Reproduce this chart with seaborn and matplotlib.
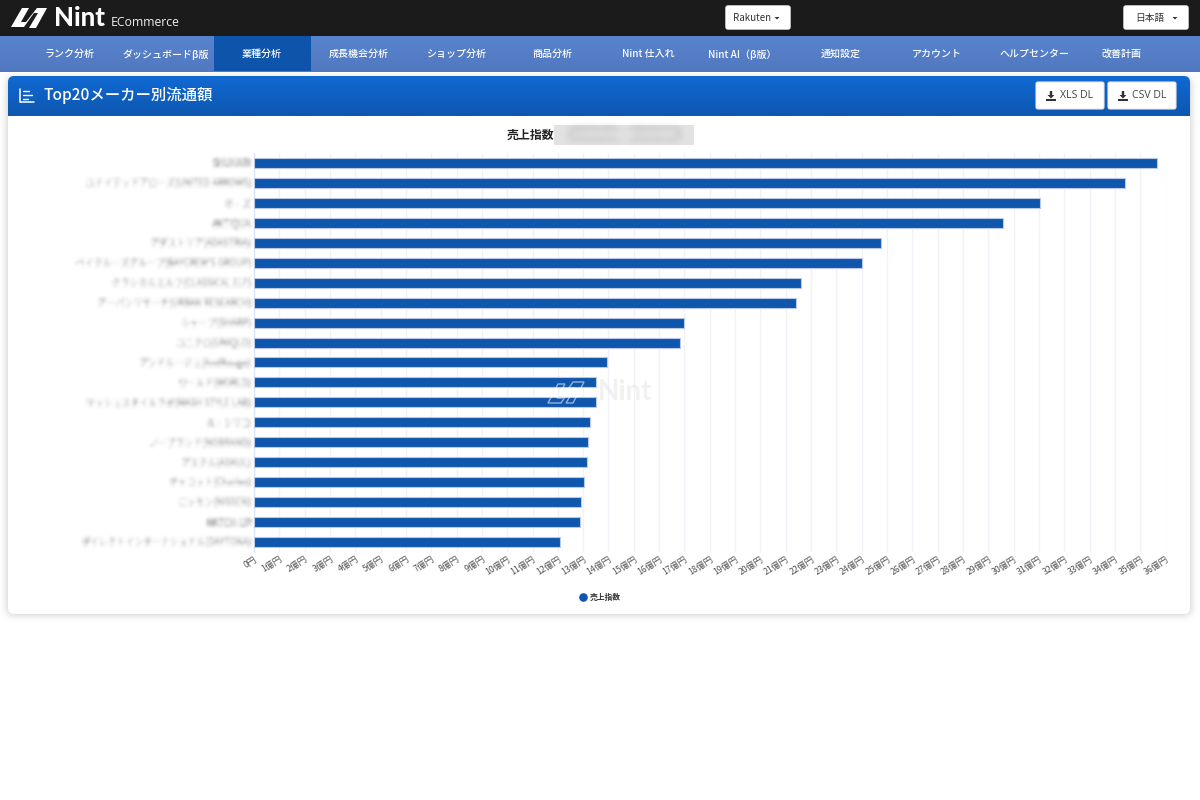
import numpy as np
import pandas as pd
import seaborn as sns
import matplotlib.pyplot as plt
from matplotlib.colors import to_rgb
from matplotlib.lines import Line2D
from matplotlib.patches import FancyBboxPatch, Rectangle, Polygon

makers = [
    "SHUHARI",
    "ユナイテッドアローズ(UNITED ARROWS)",
    "ホ・ズ",
    "ANTIQUA",
    "アダストリア(ADASTRIA)",
    "ベイクルーズグループ(BAYCREW'S GROUP)",
    "クラシカルエルフ(CLASSICAL ELF)",
    "アーバンリサーチ(URBAN RESEARCH)",
    "シャープ(SHARP)",
    "ユニクロ(UNIQLO)",
    "アンドルージュ(AndRouge)",
    "ワールド(WORLD)",
    "マッシュスタイルラボ(MASH STYLE LAB)",
    "ル・シリコ",
    "ノーブランド(NOBRAND)",
    "アスクル(ASKUL)",
    "チャコット(Charles)",
    "ニッセン(NISSEN)",
    "MATCH-UP",
    "ダイレクトインターナショナル(DAYTONA)",
]
sales = [35.66, 34.4, 31.05, 29.6, 24.76, 24.03, 21.6, 21.42, 17.0, 16.82,
         13.93, 13.52, 13.5, 13.28, 13.18, 13.15, 13.03, 12.9, 12.88, 12.1]
x_ticks = list(range(37))
x_labels = ["0円"] + [f"{i}億円" for i in range(1, 37)]
nav_items = ["ランク分析", "ダッシュボードβ版", "業種分析", "成長機会分析", "ショップ分析", "商品分析",
             "Nint 仕入れ", "Nint AI（β版）", "通知設定", "アカウント", "ヘルプセンター", "改善計画"]
nav_x = [70, 166, 262, 359, 456, 552, 648, 742, 841, 937, 1034, 1121]
# agg rounds the baseline differently for some strings
nav_dy = [0, 2, 0, 0, 0, 0, 0, 2, 0, 0, 0, 1]

BLUE = "#0f56ad"
FONT = ["Noto Sans CJK JP", "DejaVu Sans"]


def blur(sigma):
    # gaussian blur usable as an artist agg_filter
    radius = int(sigma * 3) + 1
    kernel = np.exp(-np.arange(-radius, radius + 1) ** 2 / (2 * sigma ** 2))
    kernel /= kernel.sum()

    def _filter(img, dpi):
        img = np.pad(img, ((radius, radius), (radius, radius), (0, 0)))
        for axis in (0, 1):
            img = np.apply_along_axis(lambda m: np.convolve(m, kernel, mode="same"), axis, img)
        return img, -radius, -radius

    return _filter


sns.set_theme(style="white")
plt.rcParams["font.family"] = FONT

fig = plt.figure(figsize=(12, 8), dpi=100, facecolor="white")

# page furniture, in pixel coordinates
bg = fig.add_axes([0, 0, 1, 1], zorder=0)
bg.set_xlim(0, 1200)
bg.set_ylim(800, 0)
bg.axis("off")


def gradient(top, bottom, extent, clip=None):
    c0, c1 = np.array(to_rgb(top)), np.array(to_rgb(bottom))
    t = np.linspace(0, 1, 40)[:, None, None]
    im = bg.imshow(c0 + (c1 - c0) * t, extent=extent, aspect="auto", zorder=3, interpolation="bilinear")
    if clip is not None:
        im.set_clip_path(clip)
    bg.set_xlim(0, 1200)
    bg.set_ylim(800, 0)


bg.add_patch(Rectangle((0, 0), 1200, 36, color="#1b1b1b", zorder=1))
gradient("#5783cf", "#5279bf", (0, 1200, 72, 36))
bg.add_patch(Rectangle((214, 36), 97, 35, color="#0d54aa", lw=0, zorder=4))

for label, xpos, dy in zip(nav_items, nav_x, nav_dy):
    bg.text(xpos, 56.5 + dy, label, color="white", fontsize=7.2, fontweight="medium",
            ha="center", va="baseline", zorder=5)

# logo
bg.add_patch(Polygon([(11, 27), (22, 8), (29, 8), (21, 22), (26, 22), (37, 8), (47, 8), (36, 28),
                      (29, 28), (38, 13), (34, 13), (24, 27)], color="white", lw=0, zorder=5))
bg.text(54, 18.5, "Nint", color="white", fontsize=18.5, fontweight="black", ha="left", va="center",
        family="Lato", zorder=5)
bg.text(111, 22, "ECommerce", color="#eeeeee", fontsize=8.8, ha="left", va="center",
        family="Open Sans", zorder=5)

# top buttons
for x0, w, label, tx in [(725, 66, "Rakuten", 752), (1123, 66, "日本語", 1150)]:
    bg.add_patch(FancyBboxPatch((x0 + 1, 6), w - 2, 23, boxstyle="round,pad=0,rounding_size=2",
                                fc="white", ec="white", lw=1, zorder=5))
    bg.text(tx, 21, label, color="#333333", fontsize=7, ha="center", va="baseline", zorder=6)
    cx = x0 + w - 14
    bg.add_patch(Polygon([(cx - 2.5, 17), (cx + 2.5, 17), (cx, 19.5)], color="#333333", lw=0, zorder=6))

# card
shadow = FancyBboxPatch((7, 78), 1184, 537, boxstyle="round,pad=0,rounding_size=6",
                        fc="#000000", ec="none", alpha=0.2, zorder=1)
shadow.set_agg_filter(blur(4))
bg.add_patch(shadow)
card = FancyBboxPatch((8, 76), 1182, 538, boxstyle="round,pad=0,rounding_size=6",
                      fc="white", ec="none", zorder=2)
bg.add_patch(card)
head_clip = FancyBboxPatch((8, 76), 1182, 60, boxstyle="round,pad=0,rounding_size=6",
                           fc="none", ec="none", transform=bg.transData)
bg.add_patch(head_clip)
gradient("#1169d2", "#0d57b0", (8, 1190, 116, 76), clip=head_clip)

# card title + icon
bg.add_line(Line2D([20, 20, 34], [89, 102, 102], color="white", lw=1.1, zorder=5))
for y, x1 in [(91, 29), (95, 32), (99, 28)]:
    bg.add_line(Line2D([23, x1], [y, y], color="white", lw=1, zorder=5))
bg.text(43, 100, "Top20メーカー別流通額", color="white", fontsize=11.1, fontweight="medium",
        ha="left", va="baseline", zorder=5)

# download buttons
for x0, label in [(1035, "XLS DL"), (1107, "CSV DL")]:
    bg.add_patch(FancyBboxPatch((x0 + 1, 82), 68, 27, boxstyle="round,pad=0,rounding_size=2",
                                fc="white", ec="#e8e8e8", lw=0.8, zorder=5))
    ix = x0 + 16
    bg.add_patch(Polygon([(ix - 1.2, 91), (ix + 1.2, 91), (ix + 1.2, 95), (ix + 3.5, 95), (ix, 98.5),
                          (ix - 3.5, 95), (ix - 1.2, 95)], color="#333333", lw=0, zorder=6))
    bg.add_patch(Rectangle((ix - 5, 99), 10, 2, color="#333333", lw=0, zorder=6))
    bg.text(x0 + 42, 95.5, label, color="#444444", fontsize=7.6, family="Open Sans",
            ha="center", va="center", zorder=6)

# chart title with its masked date range
bg.text(530, 135, "売上指数", color="#222222", fontsize=8.6, fontweight="bold",
        ha="center", va="center", zorder=5)
bg.add_patch(Rectangle((554, 125), 140, 20, color="#e2e2e2", lw=0, zorder=5))
date_txt = bg.text(624, 135, "2023/01 - 2023/12", color="#b8b8b8", fontsize=9.5,
                   ha="center", va="center", zorder=6)
date_txt.set_agg_filter(blur(4))

# chart
ax = fig.add_axes([254 / 1200, 1 - 552 / 800, (1165.5 - 254) / 1200, 399 / 800], zorder=1)
ax.patch.set_alpha(0)
df = pd.DataFrame({"maker": makers, "sales": sales})
sns.barplot(data=df, x="sales", y="maker", orient="h", color=BLUE, saturation=1, width=0.5,
            edgecolor="#b9c8e6", linewidth=0.8, ax=ax, zorder=3)
ax.set_xlim(0, 36)
ax.set_xlabel("")
ax.set_ylabel("")
ax.set_xticks(x_ticks)
ax.set_xticklabels(x_labels, rotation=32, ha="right", rotation_mode="anchor",
                   fontsize=6.3, color="#555555")
ax.grid(axis="x", color="#f0f2f8", lw=1, zorder=0)
ax.tick_params(axis="x", length=0, pad=2)
ax.tick_params(axis="y", length=0, pad=2, labelsize=6.4, labelcolor="#555555")
for lab in ax.get_yticklabels():
    lab.set_agg_filter(blur(1.8))
for name, spine in ax.spines.items():
    spine.set_visible(name == "left")
ax.spines["left"].set_color("#dfe5f5")
ax.spines["left"].set_linewidth(1)

handle = Line2D([], [], marker="o", ls="none", color=BLUE, markersize=5.2, label="売上指数")
leg = ax.legend(handles=[handle], loc="center", bbox_to_anchor=(598 / 1200, 1 - 597.5 / 800),
                bbox_transform=fig.transFigure, frameon=False, fontsize=5.6,
                handletextpad=-0.1, borderpad=0)
for t in leg.get_texts():
    t.set_color("#333333")
    t.set_fontweight("bold")

# watermark
mark = fig.add_axes([0, 0, 1, 1], zorder=2)
mark.set_xlim(0, 1200)
mark.set_ylim(800, 0)
mark.axis("off")
mark.add_patch(Polygon([(548, 403), (558, 384), (565, 384), (557, 398), (562, 398), (573, 382),
                        (584, 382), (573, 403), (566, 403), (575, 388), (571, 388), (561, 403)],
                       fc="none", ec="white", alpha=0.55, lw=1))
mark.text(598, 392, "Nint", color="#e6e6e6", alpha=0.55, fontsize=20, fontweight="bold",
          family="Lato", ha="left", va="center")

fig.savefig("out.png", dpi=100)
